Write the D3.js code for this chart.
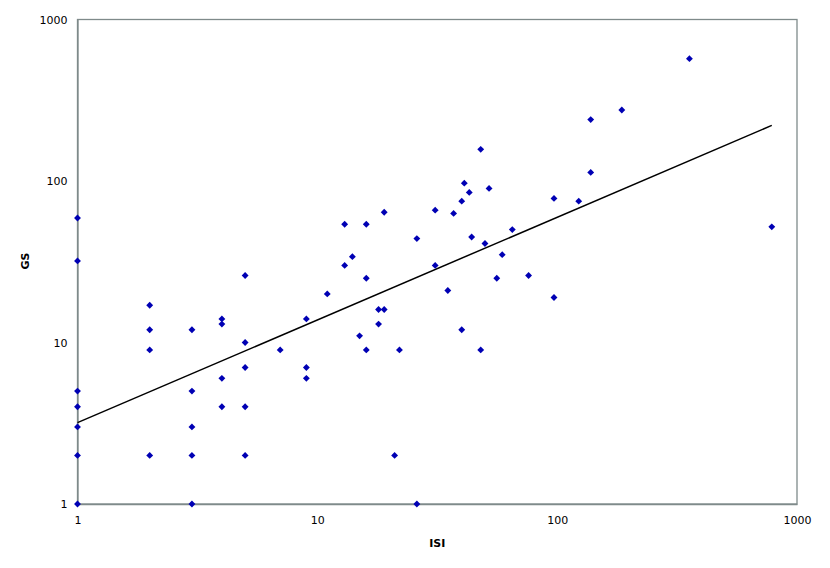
<!DOCTYPE html>
<html>
<head>
<meta charset="utf-8">
<script src="https://cdn.jsdelivr.net/npm/d3@7"></script>
<style>
  body { margin: 0; background: #fff; }
  text { font-family: "DejaVu Sans", Verdana, sans-serif; fill: #000; }
</style>
</head>
<body>
<div id="chart"></div>
<script>
// ISI / GS values
var isi = [1, 1, 1, 1, 1, 1, 1,
    2, 2, 2, 2,
    3, 3, 3, 3, 3,
    4, 4, 4, 4,
    5, 5, 5, 5, 5,
    7, 9, 9, 9, 11,
    13, 13, 14, 15, 16, 16, 16, 18, 18, 19, 19,
    21, 22, 26, 26, 31, 31, 35, 37, 40, 40, 41, 43, 44,
    48, 48, 50, 52, 56, 59, 65, 76, 97, 97,
    123, 138, 138, 186, 356, 785];
var gs = [59, 32, 5, 4, 3, 2, 1,
    17, 12, 9, 2,
    12, 5, 3, 2, 1,
    14, 13, 6, 4,
    26, 10, 7, 4, 2,
    9, 14, 7, 6, 20,
    54, 30, 34, 11, 54, 25, 9, 16, 13, 16, 64,
    2, 9, 44, 1, 66, 30, 21, 63, 75, 12, 97, 85, 45,
    157, 9, 41, 90, 25, 35, 50, 26, 78, 19,
    75, 240, 113, 275, 572, 52];

// power trendline end points
var trendX = [1, 785];
var trendY = [3.19, 221];

var xTicks = [1, 10, 100, 1000];
var yTicks = [1, 10, 100, 1000];

var margin = { top: 19.5, right: 33, bottom: 64, left: 77.5 },
    width = 830 - margin.left - margin.right,
    height = 568 - margin.top - margin.bottom;

var svg = d3.select("#chart")
    .append("svg")
    .attr("width", 830)
    .attr("height", 568)
    .append("g")
    .attr("transform", "translate(" + margin.left + "," + margin.top + ")");

var x = d3.scaleLog().domain([1, 1000]).range([0, width]);
var y = d3.scaleLog().domain([1, 1000]).range([height, 0]);

// plot frame
svg.append("rect")
    .attr("width", width)
    .attr("height", height)
    .style("fill", "none")
    .style("stroke", "#7f8a8a")
    .style("stroke-width", 1.3);

var xAxis = svg.append("g")
    .attr("transform", "translate(0," + height + ")")
    .call(d3.axisBottom(x).tickValues(xTicks).tickFormat(d3.format("d")).tickSize(0).tickPadding(12));
var yAxis = svg.append("g")
    .call(d3.axisLeft(y).tickValues(yTicks).tickFormat(d3.format("d")).tickSize(0).tickPadding(10));

[xAxis, yAxis].forEach(function (a) {
    a.select(".domain").style("stroke", "#7f8a8a").style("stroke-width", 1.3);
    a.selectAll("text")
        .style("font-size", "11px")
        .style("font-family", "'DejaVu Sans', Verdana, sans-serif");
});

svg.append("text")
    .text("ISI")
    .attr("x", width / 2)
    .attr("y", height + 43)
    .style("text-anchor", "middle")
    .style("font-size", "11px")
    .style("font-weight", "bold");

svg.append("text")
    .text("GS")
    .attr("transform", "translate(" + (25 - margin.left) + "," + (261 - margin.top) + ") rotate(-90)")
    .attr("dy", "0.35em")
    .style("text-anchor", "middle")
    .style("font-size", "11px")
    .style("font-weight", "bold");

// trendline
svg.append("line")
    .attr("x1", x(trendX[0]))
    .attr("y1", y(trendY[0]))
    .attr("x2", x(trendX[1]))
    .attr("y2", y(trendY[1]))
    .style("stroke", "#000")
    .style("stroke-width", 1.5);

// points
var diamond = d3.symbol().type(d3.symbolDiamond2).size(30);
svg.selectAll(".pt")
    .data(isi)
    .enter()
    .append("path")
    .attr("class", "pt")
    .attr("d", diamond)
    .attr("transform", function (d, i) {
        return "translate(" + x(d) + "," + y(gs[i]) + ")";
    })
    .style("fill", "#0000b4");
</script>
</body>
</html>
